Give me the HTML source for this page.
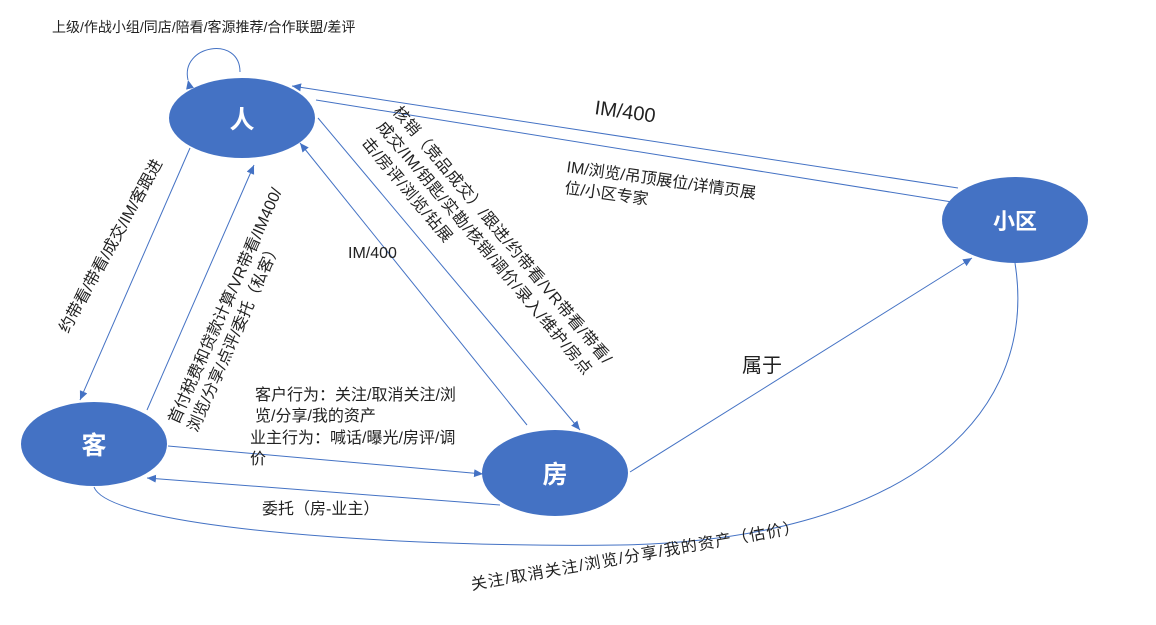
<!DOCTYPE html>
<html><head><meta charset="utf-8"><style>
html,body{margin:0;padding:0;background:#fff;}
svg{display:block;font-family:"Liberation Sans","Noto Sans CJK SC",sans-serif;}
</style></head><body>
<svg width="1156" height="625" viewBox="0 0 1156 625" xmlns="http://www.w3.org/2000/svg">
<defs>
<marker id="a" markerWidth="10" markerHeight="10" refX="9" refY="5" orient="auto" markerUnits="userSpaceOnUse">
<path d="M0,1 L9,5 L0,9 z" fill="#4472c4"/></marker>
</defs>
<g stroke="#4472c4" stroke-width="1" fill="none">
<path d="M188,80 C180,45 240,35 240,72" marker-start="url(#a)"/>
<line x1="190" y1="148" x2="80" y2="400" marker-end="url(#a)"/>
<line x1="147" y1="410" x2="254" y2="165" marker-end="url(#a)"/>
<line x1="527" y1="425" x2="300" y2="143" marker-end="url(#a)"/>
<line x1="318" y1="118" x2="580" y2="430" marker-end="url(#a)"/>
<line x1="958" y1="188" x2="292" y2="86" marker-end="url(#a)"/>
<line x1="316" y1="100" x2="952" y2="202"/>
<line x1="168" y1="446" x2="483" y2="474" marker-end="url(#a)"/>
<line x1="500" y1="505" x2="147" y2="478" marker-end="url(#a)"/>
<line x1="630" y1="472" x2="972" y2="258" marker-end="url(#a)"/>
<path d="M94,487 C110,530 420,548 620,545 C900,540 1040,420 1015,263"/>
</g>
<g fill="#4472c4">
<ellipse cx="242" cy="118" rx="73" ry="40"/>
<ellipse cx="94" cy="444" rx="73" ry="42"/>
<ellipse cx="555" cy="473" rx="73" ry="43"/>
<ellipse cx="1015" cy="220" rx="73" ry="43"/>
</g>
<g fill="#fff" font-size="25" font-weight="bold" text-anchor="middle">
<text x="242" y="128">人</text>
<text x="94" y="454">客</text>
<text x="555" y="483">房</text>
<text x="1015" y="229" font-size="22">小区</text>
</g>
<g fill="#222" font-size="16">
<text x="52" y="32" font-size="14">上级/作战小组/同店/陪看/客源推荐/合作联盟/差评</text>
<text x="594" y="114" font-size="20" transform="rotate(8 594 114)">IM/400</text>
<text x="566" y="172" transform="rotate(8 566 172)">IM/浏览/吊顶展位/详情页展</text>
<text x="564" y="193" transform="rotate(8 564 193)">位/小区专家</text>
<text x="348" y="258" font-size="16">IM/400</text>
<text x="742" y="372" font-size="20">属于</text>
<text x="68" y="334" transform="rotate(-61 68 334)">约带看/带看/成交/IM/客跟进</text>
<text x="178" y="425" transform="rotate(-66 178 425)">首付税费和贷款计算/VR带看/IM400/</text>
<text x="197" y="433" transform="rotate(-66 197 433)">浏览/分享/点评/委托（私客）</text>
<text x="392" y="112" transform="rotate(50 392 112)" letter-spacing="0.6">核销（竞品成交）/跟进/约带看/VR带看/带看/</text>
<text x="376" y="127" transform="rotate(50 376 127)" letter-spacing="0.6">成交/IM/钥匙/实勘/核销/调价/录入/维护/房点</text>
<text x="361" y="143" transform="rotate(50 361 143)" letter-spacing="0.6">击/房评/浏览/钻展</text>
<text x="255" y="400">客户行为：关注/取消关注/浏</text>
<text x="255" y="421">览/分享/我的资产</text>
<text x="250" y="443">业主行为：喊话/曝光/房评/调</text>
<text x="250" y="464">价</text>
<text x="262" y="514">委托（房-业主）</text>
<text x="472" y="590" transform="rotate(-10 472 590)" letter-spacing="1.3">关注/取消关注/浏览/分享/我的资产（估价）</text>
</g>
</svg>
</body></html>
